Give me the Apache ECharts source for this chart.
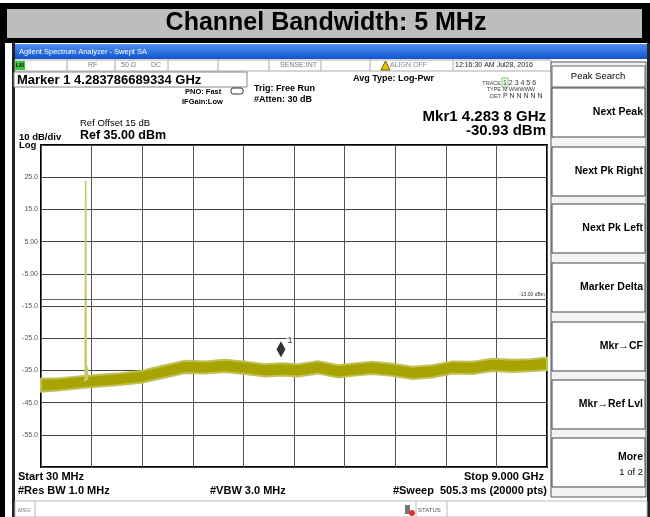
<!DOCTYPE html>
<html>
<head>
<meta charset="utf-8">
<script src="https://cdn.jsdelivr.net/npm/echarts@6/dist/echarts.min.js"></script>
<style>
  html, body { margin: 0; padding: 0; background: #fff; }
  #chart { width: 650px; height: 517px; }
</style>
</head>
<body>
<div id="chart"></div>
<script>
// trace (MHz / dBm), upper and lower edge of the noisy band
var freqMHz = [30, 367, 793, 917, 1361, 1804, 2230, 2585, 2940, 3294, 3649, 4004, 4306, 4589, 4944, 5299, 5547, 5902, 6257, 6612, 6967, 7322, 7677, 8032, 8386, 8705, 9000];
var traceHi = [-37.6, -37.4, -36.7, -36.6, -36.0, -35.2, -33.4, -32.0, -32.2, -31.7, -32.3, -33.1, -32.8, -33.1, -32.2, -33.4, -32.9, -32.3, -32.9, -33.9, -33.4, -32.2, -32.3, -31.4, -31.7, -31.5, -31.0];
var traceLo = [-41.6, -41.2, -40.4, -40.2, -39.6, -38.8, -37.2, -35.8, -36.0, -35.5, -36.1, -36.9, -36.6, -36.9, -36.0, -37.2, -36.7, -36.1, -36.7, -37.7, -37.2, -36.0, -36.1, -35.2, -35.5, -35.3, -34.9];

// carrier spike near 823 MHz
var spikeFreq = [812, 823, 831, 845, 858];
var spikeLevel = [-38.5, 23.9, -38.0, -33.8, -38.0];

var markerFreq = 4283.8;
var markerLevel = -30.93;
var displayLine = -13;

var yTickLabels = ['', '-55.0', '-45.0', '-35.0', '-25.0', '-15.0', '-5.00', '5.00', '15.0', '25.0', ''];

var softkeys = ['Next Peak', 'Next Pk Right', 'Next Pk Left', 'Marker Delta', 'Mkr\u2192CF', 'Mkr\u2192Ref Lvl', 'More'];

var traceColor = '#a7a300';
var FONT = '"Liberation Sans", Arial, sans-serif';

function txt(x, y, s, size, opt) {
  opt = opt || {};
  return {
    type: 'text', x: x, y: y, z: 20,
    style: {
      text: s,
      font: (opt.bold === false ? '' : 'bold ') + size + 'px ' + FONT,
      fill: opt.color || '#000',
      align: opt.align || 'left',
      verticalAlign: 'middle'
    }
  };
}
function box(x, y, w, h, fill, stroke, lw) {
  return {
    type: 'rect', z: 1,
    shape: { x: x, y: y, width: w, height: h },
    style: { fill: fill || 'none', stroke: stroke || null, lineWidth: lw || 1 }
  };
}

var g = [];
// document frame + title bar
g.push(box(0, 3, 650, 6, '#000'));
g.push(box(0, 9, 650, 29, '#bdbdbd'));
g.push(box(0, 9, 7, 29, '#000'));
g.push(box(642, 9, 8, 29, '#000'));
g.push(box(0, 38, 650, 5, '#000'));
g.push(box(0, 43, 5, 474, '#000'));
g.push(box(12, 43, 3, 474, '#222'));
g.push(box(647, 43, 3, 474, '#222'));
g.push(txt(326, 23, 'Channel Bandwidth: 5 MHz', 25, { align: 'center' }));

// analyzer window title bar
g.push({
  type: 'rect', z: 1, shape: { x: 15, y: 44, width: 632, height: 15 },
  style: { fill: new echarts.graphic.LinearGradient(0, 0, 0, 1, [
    { offset: 0, color: '#4f8ff0' }, { offset: 1, color: '#0f55d0' }]) }
});
g.push(txt(19, 52, 'Agilent Spectrum Analyzer - Swept SA', 7.5, { bold: false, color: '#fff' }));

// status row
g.push(box(15, 60, 536, 11, '#fff', '#aaa'));
[67, 115, 168, 218, 269, 321, 370, 453].forEach(function (x) {
  g.push({ type: 'line', z: 2, shape: { x1: x, y1: 60, x2: x, y2: 71 }, style: { stroke: '#aaa', lineWidth: 1 } });
});
g.push(box(15, 61, 10, 9, '#3ec63e'));
g.push(txt(16, 65.5, 'LXI', 5, { color: '#000' }));
g.push(txt(88, 65.5, 'RF', 7, { bold: false, color: '#777' }));
g.push(txt(121, 65.5, '50 \u03a9', 7, { bold: false, color: '#777' }));
g.push(txt(151, 65.5, 'DC', 7, { bold: false, color: '#777' }));
g.push(txt(317, 65.5, 'SENSE:INT', 7, { bold: false, color: '#777', align: 'right' }));
g.push({ type: 'polygon', z: 20, shape: { points: [[381, 70], [385.5, 61], [390, 70]] }, style: { fill: '#e8c400', stroke: '#705d00' } });
g.push(txt(390, 65.5, 'ALIGN OFF', 7, { bold: false, color: '#888' }));
g.push(txt(455, 65.5, '12:16:30 AM Jul28, 2016', 7, { bold: false, color: '#222' }));

// marker readout box
g.push(box(14, 72, 233, 15, '#fff', '#888'));
g.push(txt(17, 80, 'Marker 1 4.283786689334 GHz', 13));
g.push(txt(185, 92, 'PNO: Fast', 7.5));
g.push(txt(182, 102, 'IFGain:Low', 7.5));
g.push({ type: 'rect', z: 20, shape: { x: 231, y: 88, width: 12, height: 6, r: 2 }, style: { fill: 'none', stroke: '#333' } });
g.push(txt(254, 89, 'Trig: Free Run', 9));
g.push(txt(254, 100, '#Atten: 30 dB', 9));
g.push(txt(353, 79, 'Avg Type: Log-Pwr', 9));

// trace table
g.push(txt(501, 83, 'TRACE', 5.5, { bold: false, color: '#444', align: 'right' }));
g.push(txt(501, 89.5, 'TYPE', 5.5, { bold: false, color: '#444', align: 'right' }));
g.push(txt(501, 96, 'DET', 5.5, { bold: false, color: '#444', align: 'right' }));
g.push(box(502, 78, 6, 9, 'none', '#6c6'));
g.push(txt(503, 83, '1 2 3 4 5 6', 7, { bold: false, color: '#333' }));
g.push(txt(503, 89.5, 'M WWWWW', 5.5, { bold: false, color: '#333' }));
g.push(txt(503, 96, 'P N N N N N', 7, { bold: false, color: '#333' }));

g.push(txt(546, 117, 'Mkr1 4.283 8 GHz', 15, { align: 'right' }));
g.push(txt(546, 131, '-30.93 dBm', 15, { align: 'right' }));
g.push(txt(80, 123, 'Ref Offset 15 dB', 9.5, { bold: false }));
g.push(txt(80, 136, 'Ref 35.00 dBm', 12.5));
g.push(txt(19, 137, '10 dB/div', 9.5));
g.push(txt(19, 145, 'Log', 9.5));

// bottom annotations
g.push(txt(18, 477, 'Start 30 MHz', 11));
g.push(txt(18, 491, '#Res BW 1.0 MHz', 11));
g.push(txt(210, 491, '#VBW 3.0 MHz', 11));
g.push(txt(544, 477, 'Stop 9.000 GHz', 11, { align: 'right' }));
g.push(txt(547, 491, '#Sweep  505.3 ms (20000 pts)', 11, { align: 'right' }));

// message bar
g.push(box(15, 501, 632, 16, '#fff', '#bbb'));
[35, 416, 447].forEach(function (x) {
  g.push({ type: 'line', z: 2, shape: { x1: x, y1: 501, x2: x, y2: 517 }, style: { stroke: '#bbb', lineWidth: 1 } });
});
g.push(txt(18, 510, 'MSG', 5.5, { bold: false, color: '#777' }));
g.push(box(405, 505, 5, 9, '#777'));
g.push({ type: 'circle', z: 20, shape: { cx: 412, cy: 513, r: 3 }, style: { fill: '#e03030' } });
g.push(txt(418, 510, 'STATUS', 6, { bold: false, color: '#555' }));

// softkey panel
g.push(box(551, 62, 95, 435, '#f3f3f3', '#555'));
g.push(box(552, 66, 93, 21, '#fff', '#666'));
g.push(txt(598, 76, 'Peak Search', 9.5, { bold: false, align: 'center' }));
var keyTop = [88, 147, 204, 263, 322, 380, 438];
softkeys.forEach(function (k, i) {
  var y = keyTop[i];
  g.push(box(552, y, 93, 49, '#fff', '#444'));
  if (k === 'More') {
    g.push(txt(643, y + 19, k, 10.5, { align: 'right' }));
    g.push(txt(643, y + 34, '1 of 2', 9.5, { bold: false, align: 'right' }));
  } else {
    g.push(txt(643, y + 24, k, 10.5, { align: 'right' }));
  }
});

var chart = echarts.init(document.getElementById('chart'), null, { renderer: 'canvas' });

chart.setOption({
  animation: false,
  backgroundColor: '#fff',
  grid: { left: 41, top: 145, width: 506, height: 322, show: true, borderColor: '#000', borderWidth: 2, backgroundColor: '#fff' },
  xAxis: [
    { type: 'value', min: 30, max: 9000, show: false },
    { type: 'value', min: 0, max: 10, interval: 1, position: 'bottom',
      axisLine: { show: false }, axisTick: { show: false }, axisLabel: { show: false },
      splitLine: { show: true, lineStyle: { color: '#555', width: 1 } } }
  ],
  yAxis: [
    { type: 'value', min: -65, max: 35, show: false },
    { type: 'value', min: 0, max: 10, interval: 1, position: 'left',
      axisLine: { show: false }, axisTick: { show: false },
      axisLabel: { margin: 3, fontSize: 7, color: '#555', fontFamily: FONT,
        formatter: function (v) { return yTickLabels[v]; } },
      splitLine: { show: true, lineStyle: { color: '#444', width: 1 } } }
  ],
  series: [
    {
      type: 'custom', xAxisIndex: 0, yAxisIndex: 0, z: 3,
      data: [[0, 0]],
      renderItem: function (params, api) {
        var pts = [];
        for (var i = 0; i < freqMHz.length; i++) pts.push(api.coord([freqMHz[i], traceHi[i]]));
        for (var j = freqMHz.length - 1; j >= 0; j--) pts.push(api.coord([freqMHz[j], traceLo[j]]));
        return { type: 'polygon', shape: { points: pts }, style: { fill: traceColor, stroke: '#c2bf55', lineWidth: 2 } };
      }
    },
    {
      type: 'line', xAxisIndex: 0, yAxisIndex: 0, z: 4,
      data: spikeFreq.map(function (f, i) { return [f, spikeLevel[i]]; }),
      symbol: 'none',
      lineStyle: { color: '#ccc86a', width: 1.6 },
      markLine: {
        silent: true, symbol: 'none',
        lineStyle: { color: '#666', width: 1, type: 'solid' },
        label: { show: true, position: 'insideEndTop', formatter: '-13.00 dBm', fontSize: 5, color: '#333', distance: 2 },
        data: [{ yAxis: displayLine }]
      }
    },
    {
      type: 'scatter', xAxisIndex: 0, yAxisIndex: 0, z: 5,
      data: [[markerFreq, markerLevel]],
      symbol: 'diamond', symbolSize: [9, 16], symbolOffset: [0, -8],
      itemStyle: { color: '#000' },
      label: { show: true, formatter: '1', position: 'right', offset: [-4, -9], fontSize: 9, color: '#000',
        backgroundColor: '#fff', padding: [0, 1], fontFamily: FONT }
    }
  ],
  graphic: g
});
</script>
</body>
</html>
